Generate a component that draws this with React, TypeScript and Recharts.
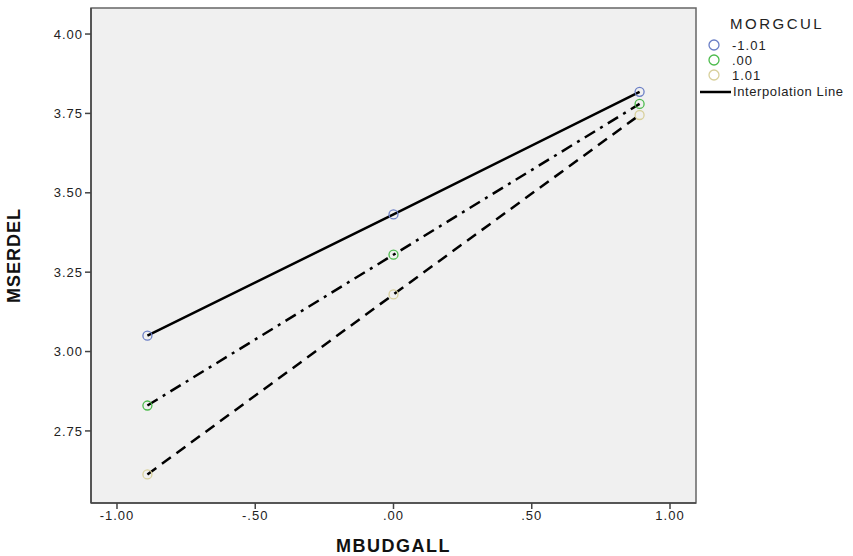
import React from 'react';
import { ComposedChart, Line, XAxis, YAxis, ReferenceArea } from 'recharts';

const xValues = [-0.89, 0, 0.89];
const seriesNeg = [3.05, 3.432, 3.818];
const seriesZero = [2.83, 3.305, 3.78];
const seriesPos = [2.613, 3.18, 3.745];
const xTicks = [-1, -0.5, 0, 0.5, 1];
const yTicks = [2.75, 3.0, 3.25, 3.5, 3.75, 4.0];
const legendLabels = ['-1.01', '.00', '1.01'];

const data = xValues.map((x, i) => ({ x, a: seriesNeg[i], b: seriesZero[i], c: seriesPos[i] }));

const COLORS = ['#6b7fc6', '#4cbb4c', '#d8d09c'];
const FONT = '"Liberation Sans", Arial, sans-serif';

const fmtX = (v: number) => {
  const s = v.toFixed(2);
  return s.replace(/^(-?)0\./, '$1.');
};
const fmtY = (v: number) => v.toFixed(2);

const makeDot = (color: string) => (props: any) => {
  const { cx, cy, index } = props;
  return <circle key={index} cx={cx} cy={cy} r={4.5} fill="none" stroke={color} strokeWidth={1.3} />;
};

const LegendBox = () => (
  <svg width={153} height={100} style={{ position: 'absolute', left: 700, top: 0, fontFamily: FONT }}>
    <text x={30} y={29} fontSize={15} letterSpacing={2.5} fill="#222">MORGCUL</text>
    {legendLabels.map((l, i) => (
      <g key={l}>
        <circle cx={14} cy={45 + i * 15} r={5} fill="none" stroke={COLORS[i]} strokeWidth={1.3} />
        <text x={32} y={50 + i * 15} fontSize={13} letterSpacing={1} fill="#222">{l}</text>
      </g>
    ))}
    <line x1={0} y1={92} x2={31} y2={92} stroke="#000" strokeWidth={2.5} />
    <text x={33} y={96} fontSize={13} letterSpacing={0.6} fill="#222">Interpolation Line</text>
  </svg>
);

export default function App() {
  return (
    <div style={{ position: 'absolute', left: 0, top: 0, width: 853, height: 556 }}>
      <ComposedChart width={853} height={556} data={data} margin={{ top: 8, right: 157, bottom: 0, left: 0 }}>
        <ReferenceArea x1={-1.094} x2={1.094} y1={2.523} y2={4.082} fill="#f0f0f0" fillOpacity={1} stroke="#666" strokeWidth={1.5} ifOverflow="visible" />
        <XAxis
          dataKey="x"
          type="number"
          domain={[-1.094, 1.094]}
          ticks={xTicks}
          tickFormatter={fmtX}
          allowDataOverflow
          height={53}
          stroke="#444"
          strokeWidth={1.5}
          tickSize={6}
          tick={{ fill: '#222', fontSize: 13, fontFamily: FONT, letterSpacing: 1 }}
          label={{ value: 'MBUDGALL', position: 'insideBottom', offset: 4, fill: '#111', fontSize: 18, fontWeight: 'bold', fontFamily: FONT, letterSpacing: 1.5 }}
        />
        <YAxis
          type="number"
          domain={[2.523, 4.082]}
          ticks={yTicks}
          tickFormatter={fmtY}
          allowDataOverflow
          width={91}
          stroke="#444"
          strokeWidth={1.5}
          tickSize={6}
          tick={{ fill: '#222', fontSize: 13, fontFamily: FONT, letterSpacing: 1 }}
          label={{ value: 'MSERDEL', angle: -90, position: 'insideLeft', offset: 14, fill: '#111', fontSize: 18, fontWeight: 'bold', fontFamily: FONT, letterSpacing: 1, style: { textAnchor: 'middle' } }}
        />
        <Line dataKey="a" type="linear" stroke="#000" strokeWidth={2.5} dot={makeDot(COLORS[0])} activeDot={false} isAnimationActive={false} />
        <Line dataKey="b" type="linear" stroke="#000" strokeWidth={2.5} strokeDasharray="12 6 3 6" dot={makeDot(COLORS[1])} activeDot={false} isAnimationActive={false} />
        <Line dataKey="c" type="linear" stroke="#000" strokeWidth={2.5} strokeDasharray="11 7" dot={makeDot(COLORS[2])} activeDot={false} isAnimationActive={false} />
      </ComposedChart>
      <LegendBox />
    </div>
  );
}
